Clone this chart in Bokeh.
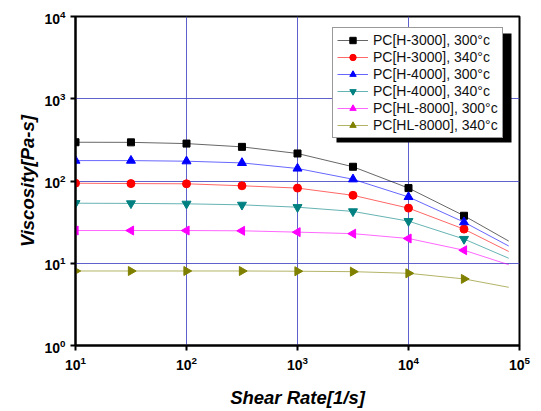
from bokeh.plotting import figure
from bokeh.models import Legend, BoxAnnotation
from bokeh.embed import file_html
from bokeh.resources import INLINE

# Shear rates where viscosity was measured [1/s]
shear_rate = [10, 31.6, 100, 316, 1000, 3162, 10000, 31623]
# Fitted curves are drawn out to this shear rate
fit_end_rate = 80000

# Viscosity [Pa-s] for each grade / melt temperature
visc_h3000_300 = [296, 295, 285, 260, 216, 149, 82, 37.8]
visc_h3000_340 = [94, 93, 92.5, 87.5, 82, 67, 46.8, 26]
visc_h4000_300 = [177, 177, 174, 166, 142, 105, 64, 31.6]
visc_h4000_340 = [53.7, 53.4, 52.8, 51.3, 48, 42.7, 32.5, 19.7]
visc_hl8000_300 = [25, 25, 25, 24.8, 23.9, 22.9, 20, 14.4]
visc_hl8000_340 = [8.05, 8.05, 8.05, 8.05, 8.0, 7.9, 7.55, 6.45]

# Fitted-curve viscosity at fit_end_rate
fit_end_visc = [18.6, 13.9, 16.2, 11.5, 9.6, 5.1]

labels = [
    "PC[H-3000], 300°c",
    "PC[H-3000], 340°c",
    "PC[H-4000], 300°c",
    "PC[H-4000], 340°c",
    "PC[HL-8000], 300°c",
    "PC[HL-8000], 340°c",
]

series = [visc_h3000_300, visc_h3000_340, visc_h4000_300,
          visc_h4000_340, visc_hl8000_300, visc_hl8000_340]
colors = ["#000000", "#ff0000", "#0000ff", "#008080", "#ff00ff", "#808000"]
markers = ["square", "circle", "triangle", "inverted_triangle",
           "triangle", "triangle"]
angles = [0, 0, 0, 0, 1.5708, -1.5708]
sizes = [7, 8, 9, 9, 9, 9]

p = figure(width=541, height=411, x_axis_type="log", y_axis_type="log",
           x_range=(10, 1e5), y_range=(1, 1e4),
           output_backend="svg", toolbar_location=None,
           min_border_left=75, min_border_right=22,
           min_border_top=16, min_border_bottom=66)

p.outline_line_color = "black"
p.outline_line_width = 2
p.background_fill_color = "white"
p.border_fill_color = "white"

for ax in (p.xaxis, p.yaxis):
    ax.axis_line_width = 2
    ax.major_tick_line_width = 2
    ax.major_tick_in = 0
    ax.major_tick_out = 5
    ax.minor_tick_line_color = None
    ax.major_label_text_font = "Liberation Sans"
    ax.major_label_text_font_style = "bold"
    ax.major_label_text_font_size = "14px"
    ax.major_label_text_color = "black"
    ax.axis_label_text_font = "Liberation Sans"
    ax.axis_label_text_font_style = "bold italic"
    ax.axis_label_text_font_size = "18.5px"
    ax.axis_label_text_color = "black"

p.xaxis.axis_label = "Shear Rate[1/s]"
p.yaxis.axis_label = "Viscosity[Pa-s]"
p.xaxis.axis_label_standoff = 14
p.yaxis.axis_label_standoff = 3

p.grid.grid_line_color = "#5050c8"
p.grid.grid_line_width = 1
p.grid.grid_line_alpha = 0.9

items = []
for vals, end_v, lab, col, mk, ang, sz in zip(series, fit_end_visc, labels,
                                            colors, markers, angles, sizes):
    line_x = shear_rate + [fit_end_rate]
    line_y = vals + [end_v]
    r_line = p.line(line_x, line_y, line_color=col, line_width=1,
                    line_alpha=0.6)
    r_pts = p.scatter(shear_rate, vals, marker=mk, size=sz, angle=ang,
                      fill_color=col, line_color=col)
    items.append((lab, [r_line, r_pts]))

# Drop shadow behind the legend box (frame-relative pixels)
shadow = BoxAnnotation(left=261, right=436, top=312, bottom=203,
                       left_units="screen", right_units="screen",
                       top_units="screen", bottom_units="screen",
                       fill_color="black", fill_alpha=1.0,
                       line_color=None, level="annotation")
p.add_layout(shadow)

legend = Legend(items=items, location=(257, 207))
legend.label_text_font = "Liberation Sans"
legend.label_text_font_size = "14px"
legend.label_text_color = "#111111"
legend.glyph_width = 31
legend.glyph_height = 16
legend.spacing = 1
legend.padding = 4
legend.margin = 0
legend.label_standoff = 5
legend.label_height = 16
legend.border_line_color = "#333333"
legend.border_line_width = 1
legend.background_fill_color = "white"
legend.background_fill_alpha = 1.0
p.add_layout(legend)

open("out.html", "w").write(file_html(p, INLINE))
